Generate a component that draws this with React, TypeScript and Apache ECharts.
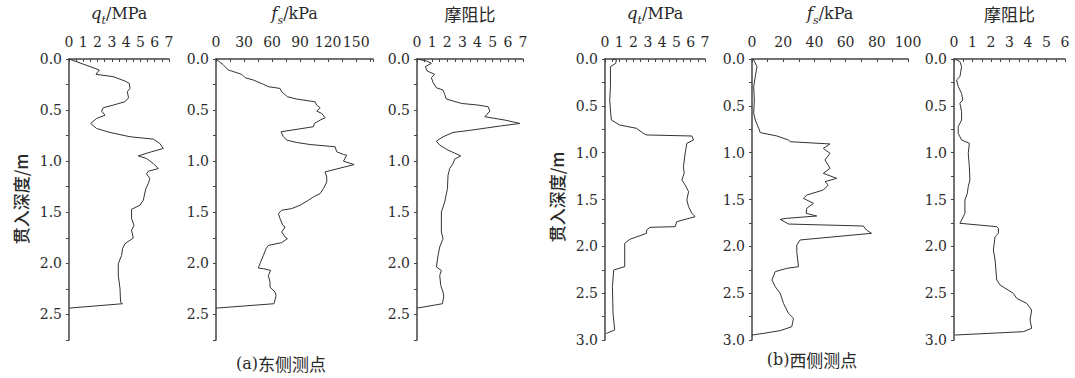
import React, { useEffect, useRef } from "react";
import * as echarts from "echarts";

// [depth (m), value] pairs
const eastQt: [number, number][] = [
  [0, 0], [0.092, 1.82], [0.108, 2.12], [0.15, 1.89], [0.173, 3.1], [0.216, 3.92], [0.239, 4.22],
  [0.288, 4.27], [0.32, 4.08], [0.379, 4.17], [0.418, 3.92], [0.451, 3.1], [0.477, 2.4], [0.51, 2.28],
  [0.549, 2.52], [0.582, 1.93], [0.631, 1.52], [0.68, 1.93], [0.719, 2.87], [0.761, 4.27], [0.784, 5.9],
  [0.827, 6.36], [0.876, 6.6], [0.908, 5.78], [0.948, 4.85], [0.974, 5.43], [1.023, 5.9], [1.072, 6.25],
  [1.098, 5.55], [1.124, 5.43], [1.17, 5.66], [1.219, 5.55], [1.268, 5.38], [1.382, 5.2], [1.431, 4.97],
  [1.471, 4.38], [1.562, 4.38], [1.627, 4.55], [1.676, 4.38], [1.752, 4.5], [1.807, 3.92], [1.856, 3.75],
  [1.922, 3.68], [2.003, 3.45], [2.118, 3.45], [2.248, 3.57], [2.379, 3.61], [2.395, 3.75], [2.438, 0],
];

const eastFs: [number, number][] = [
  [0, 0], [0.059, 7.9], [0.108, 13.2], [0.118, 16.8], [0.15, 27.5], [0.183, 31.1], [0.206, 40],
  [0.248, 50.7], [0.271, 56], [0.288, 68.5], [0.32, 70.3], [0.369, 76.4], [0.392, 86.4], [0.412, 100.7],
  [0.418, 106], [0.451, 107.8], [0.477, 111.4], [0.51, 107.8], [0.533, 113.2], [0.575, 116.7],
  [0.598, 111.4], [0.631, 105.3], [0.663, 104.2], [0.712, 69.6], [0.761, 72.1], [0.794, 75.7],
  [0.817, 86.4], [0.837, 100.7], [0.859, 127.4], [0.908, 129.2], [0.935, 136.4], [0.941, 139.9],
  [1.0, 136.4], [1.033, 147.8], [1.105, 116.7], [1.154, 118.5], [1.203, 118.5], [1.268, 115],
  [1.317, 111.4], [1.35, 104.2], [1.382, 98.9], [1.431, 90], [1.464, 81], [1.48, 70.3], [1.513, 66.8],
  [1.562, 68.5], [1.627, 71.4], [1.644, 73.9], [1.693, 70.3], [1.742, 73.9], [1.758, 76.4],
  [1.797, 70.3], [1.824, 56], [1.856, 53.6], [1.922, 50.7], [2.003, 47.1], [2.046, 45.3], [2.052, 50.7],
  [2.069, 58.5], [2.118, 56], [2.183, 57.8], [2.232, 57.8], [2.281, 63.2], [2.314, 64.3], [2.395, 62.1],
  [2.438, 0],
];

const eastRatio: [number, number][] = [
  [0, 0], [0.02, 0.62], [0.042, 0.95], [0.075, 0.55], [0.118, 0.68], [0.15, 1.17], [0.183, 0.95],
  [0.229, 1.06], [0.281, 1.28], [0.304, 1.72], [0.346, 1.83], [0.392, 1.94], [0.435, 2.94],
  [0.451, 4.04], [0.467, 4.7], [0.51, 4.81], [0.565, 4.48], [0.598, 5.81], [0.631, 6.8], [0.654, 5.58],
  [0.696, 3.6], [0.719, 2.38], [0.761, 1.72], [0.804, 1.28], [0.843, 1.5], [0.892, 2.05], [0.948, 2.89],
  [0.98, 2.49], [1.023, 2.38], [1.072, 2.16], [1.137, 2.05], [1.268, 2.01], [1.399, 1.83], [1.497, 1.61],
  [1.693, 1.61], [1.758, 1.72], [1.84, 1.5], [1.922, 1.39], [2.036, 1.28], [2.069, 1.61], [2.118, 1.5],
  [2.216, 1.57], [2.281, 1.72], [2.32, 1.77], [2.395, 1.68], [2.438, 0],
];

const westQt: [number, number][] = [
  [0.0, 0.55], [0.011, 0.8], [0.046, 0.75], [0.082, 0.38], [0.295, 0.38], [0.438, 0.33], [0.58, 0.4],
  [0.651, 0.45], [0.705, 1.03], [0.74, 2.21], [0.794, 2.68], [0.811, 2.91], [0.822, 6.08], [0.865, 6.2],
  [0.9, 5.73], [1.007, 5.61], [1.149, 5.49], [1.221, 5.54], [1.292, 5.38], [1.345, 5.61], [1.416, 5.85],
  [1.505, 5.73], [1.577, 5.85], [1.648, 6.08], [1.683, 6.31], [1.737, 5.02], [1.79, 4.91], [1.797, 3.15],
  [1.826, 2.91], [1.861, 2.91], [1.925, 1.74], [1.968, 1.38], [2.217, 1.38], [2.253, 0.61], [2.43, 0.52],
  [2.715, 0.56], [2.893, 0.68], [2.93, 0.09],
];

const westFs: [number, number][] = [
  [0, 0.8], [0.011, 1.1], [0.082, 3.2], [0.189, 2.1], [0.295, 1.1], [0.438, 1.5], [0.58, 1.1],
  [0.651, 2.1], [0.74, 4.3], [0.786, 5.3], [0.822, 16], [0.865, 23.4], [0.883, 24.5], [0.907, 50],
  [0.954, 45.7], [1.007, 50], [1.078, 46.8], [1.167, 50], [1.221, 45.7], [1.274, 54.3], [1.31, 46.8],
  [1.345, 48.9], [1.399, 45.7], [1.452, 35.1], [1.488, 33], [1.541, 39.4], [1.594, 35.1], [1.648, 34.7],
  [1.676, 41.5], [1.701, 22.3], [1.712, 18.1], [1.762, 23.4], [1.783, 71.3], [1.826, 73.4],
  [1.861, 76.6], [1.932, 30.9], [1.986, 28.7], [2.057, 28.7], [2.217, 29.8], [2.235, 22.3],
  [2.27, 14.9], [2.359, 12.8], [2.431, 14.9], [2.502, 18.1], [2.609, 20.2], [2.715, 23.4],
  [2.769, 26.6], [2.858, 25.5], [2.9, 18.1], [2.929, 7.4], [2.947, 0],
];

const westRatio: [number, number][] = [
  [0, 0.05], [0.028, 0.32], [0.082, 0.41], [0.189, 0.32], [0.224, 0.14], [0.295, 0.23], [0.367, 0.41],
  [0.438, 0.47], [0.473, 0.32], [0.562, 0.41], [0.651, 0.41], [0.722, 0.23], [0.794, 0.23],
  [0.865, 0.41], [0.9, 0.83], [1.007, 0.77], [1.149, 0.83], [1.292, 0.86], [1.363, 0.77], [1.434, 0.72],
  [1.505, 0.59], [1.648, 0.59], [1.719, 0.41], [1.754, 0.32], [1.79, 2.31], [1.808, 2.4], [1.861, 2.4],
  [1.897, 2.22], [2.039, 2.13], [2.146, 2.22], [2.359, 2.31], [2.413, 2.49], [2.502, 3.21],
  [2.555, 3.39], [2.609, 3.93], [2.68, 4.2], [2.786, 4.11], [2.875, 4.2], [2.911, 3.75], [2.947, 0.05],
];

const titles = ["{i|q}{s|t}/MPa", "{i|f}{s|s}/kPa", "摩阻比", "{i|q}{s|t}/MPa", "{i|f}{s|s}/kPa", "摩阻比"];
const depthLabel = "贯入深度/m";
const captionTags = ["(a)", "(b)"];
const captions = ["东侧测点", "西侧测点"];

const SERIF = "'DejaVu Serif', 'Liberation Serif', serif";
const CJK = "'Noto Sans CJK SC', sans-serif";
const INK = "#2a2a2a";

export default function App() {
  const ref = useRef<HTMLDivElement>(null);
  useEffect(() => {
    if (!ref.current) return;
    const chart = echarts.init(ref.current, undefined, { renderer: "svg" });

    const panels = [
      { data: eastQt, left: 69, width: 100, xMax: 7, tick: 0.5, step: 1, yMax: 2.75 },
      { data: eastFs, left: 216, width: 157, xMax: 168, tick: 15, step: 30, yMax: 2.75 },
      { data: eastRatio, left: 417, width: 106, xMax: 7, tick: 0.5, step: 1, yMax: 2.75 },
      { data: westQt, left: 605, width: 100, xMax: 7, tick: 0.5, step: 1, yMax: 3.0 },
      { data: westFs, left: 752, width: 156, xMax: 100, tick: 10, step: 20, yMax: 3.0 },
      { data: westRatio, left: 954, width: 111, xMax: 6, tick: 0.5, step: 1, yMax: 3.0 },
    ];

    const isMult = (v: number, s: number) => Math.abs(v / s - Math.round(v / s)) < 1e-6;

    const grid = panels.map((p) => ({
      left: p.left,
      top: 59,
      width: p.width,
      height: 281,
      containLabel: false,
      outerBoundsMode: "none",
    }));
    const xAxis = panels.map((p, i) => ({
      type: "value",
      gridIndex: i,
      position: "top",
      min: 0,
      max: p.xMax,
      interval: p.tick,
      name: titles[i],
      nameLocation: "middle",
      nameGap: 46,
      nameMoveOverlap: false,
      nameTextStyle: {
        fontFamily: titles[i].startsWith("{") ? SERIF : CJK,
        fontSize: titles[i].startsWith("{") ? 16 : 17,
        color: INK,
        verticalAlign: "middle",
        rich: {
          i: { fontFamily: SERIF, fontStyle: "italic", fontSize: 17, color: INK },
          s: { fontFamily: SERIF, fontStyle: "italic", fontSize: 11, color: INK, verticalAlign: "bottom", lineHeight: 25 },
        },
      },
      axisLine: { show: true, lineStyle: { color: "#444", width: 1.5 } },
      axisTick: { show: true, inside: true, length: 3, lineStyle: { color: "#444" } },
      axisLabel: {
        margin: 10,
        fontFamily: SERIF,
        fontSize: 14,
        color: INK,
        formatter: (v: number) => (isMult(v, p.step) ? String(Math.round(v)) : ""),
      },
      splitLine: { show: false },
    }));
    const yAxis = panels.map((p, i) => ({
      type: "value",
      gridIndex: i,
      inverse: true,
      min: 0,
      max: p.yMax,
      interval: 0.25,
      axisLine: { show: true, lineStyle: { color: "#444", width: 1.5 } },
      axisTick: { show: true, inside: false, length: 3, lineStyle: { color: "#444" } },
      axisLabel: {
        margin: 7,
        fontFamily: SERIF,
        fontSize: 14,
        color: INK,
        formatter: (v: number) => (isMult(v, 0.5) ? v.toFixed(1) : ""),
      },
      splitLine: { show: false },
    }));
    const series = panels.map((p, i) => ({
      type: "line",
      xAxisIndex: i,
      yAxisIndex: i,
      data: p.data.map(([d, v]) => [v, d]),
      showSymbol: false,
      symbol: "none",
      lineStyle: { color: "#333", width: 1 },
      silent: true,
    }));

    const centered = {
      fill: INK,
      align: "center",
      verticalAlign: "middle",
      textAlign: "center",
      textVerticalAlign: "middle",
    };

    const captionStyle = (k: number) => ({
      ...centered,
      text: `{a|${captionTags[k]}}{b|${captions[k]}}`,
      font: `17px ${CJK}`,
      rich: {
        a: { fontFamily: SERIF, fontSize: 16, fill: INK, color: INK },
        b: { fontFamily: CJK, fontSize: 17, fill: INK, color: INK },
      },
    });

    const graphic = [
      { type: "text", x: 20, y: 199, rotation: Math.PI / 2, style: { ...centered, text: depthLabel, font: `500 17px ${CJK}` } },
      { type: "text", x: 556, y: 197, rotation: Math.PI / 2, style: { ...centered, text: depthLabel, font: `500 17px ${CJK}` } },
      { type: "text", x: 281, y: 363, style: captionStyle(0) },
      { type: "text", x: 812, y: 359, style: captionStyle(1) },
    ];

    chart.setOption({
      animation: false,
      backgroundColor: "#fff",
      grid,
      xAxis,
      yAxis,
      series,
      graphic,
    } as any);
    return () => chart.dispose();
  }, []);
  return <div ref={ref} style={{ position: "fixed", left: 0, top: 0, width: 1075, height: 378 }} />;
}
